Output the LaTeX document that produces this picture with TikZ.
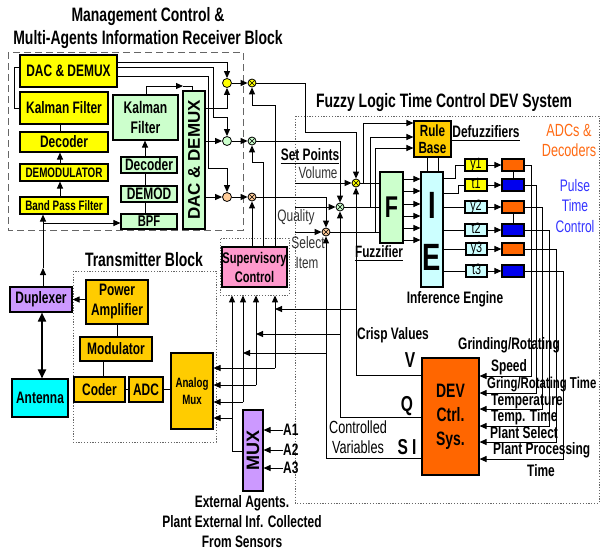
\documentclass[tikz,border=0pt]{standalone}
\usepackage{fontspec}
\setmainfont{Liberation Sans}[FakeStretch=0.72]
\newfontfamily\rotfont{Liberation Sans}
\usetikzlibrary{arrows.meta}
\definecolor{yel}{HTML}{FFFF00}
\definecolor{lgreen}{HTML}{CCFFCC}
\definecolor{gold}{HTML}{FFCC00}
\definecolor{purp}{HTML}{CC99FF}
\definecolor{cyanA}{HTML}{00FFFF}
\definecolor{pinkA}{HTML}{FF99CC}
\definecolor{devor}{HTML}{FF6600}
\definecolor{lcyan}{HTML}{CCFFFF}
\definecolor{peach}{HTML}{FFCC99}
\definecolor{blueA}{HTML}{0000EE}
\definecolor{orangeT}{HTML}{FF6A13}
\definecolor{blueT}{HTML}{3333FF}
\newcommand\myfs[2]{\fontsize{#1}{#2}\selectfont}
\newcommand\myB{\myfs{16.6}{20}\bfseries}
\newcommand\myS{\myfs{13.7}{16.5}\bfseries}
\newcommand\myT{\myfs{19.4}{23}\bfseries}
\newcommand\bxn[7]{\node[bx,#6,minimum width={#4-#2},minimum height={#5-#3}] (#1) at ({(#2+#4)/2},{(#3+#5)/2}) {#7};}
\begin{document}
\begin{tikzpicture}[x=1pt,y=-1pt,
  bx/.style={draw=black,line width=1.1pt,inner sep=0pt,align=center},
  ln/.style={line width=1pt},
  arr/.style={line width=1pt,-{Triangle[length=7pt,width=6pt]}},
  cir/.style={circle,draw=black,line width=0.8pt,minimum size=9pt,inner sep=0pt},
  xo/.style={circle,draw=black,line width=0.8pt,minimum size=8pt,inner sep=0pt,
     path picture={\draw[line width=0.5pt] (path picture bounding box.north west) -- (path picture bounding box.south east) (path picture bounding box.north east) -- (path picture bounding box.south west);}},
  lbl/.style={inner sep=0pt,align=center},
  frdash/.style={draw=black!60,line width=0.8pt,dash pattern=on 7pt off 4pt},
  frdot/.style={draw=black!60,line width=0.8pt,dash pattern=on 1.2pt off 1.6pt},
  smallbox/.style={font=\myfs{15}{15},text height=9pt,text depth=2pt},
]
\useasboundingbox (0,0) rectangle (601,550);

% frames
\draw[frdash] (8,52) rectangle (243,230);
\draw[frdot] (295,116) rectangle (599,503);
\draw[frdot] (73,271) rectangle (216,442);
\node[bx,frdot,minimum width=69,minimum height=57] (supbox) at (254.5,266.5) {};

% titles
\node[lbl,font=\myT] (tA) at (148,17) {Management Control \&};
\node[lbl,font=\myT] (tB) at (148,40) {Multi-Agents Information Receiver Block};
\node[lbl,font=\myT] (tC) at (444,103) {Fuzzy Logic Time Control DEV System};
\node[lbl,font=\myT] (tD) at (144,260) {Transmitter Block};

% receiver
\bxn{dacY}{20}{55}{117}{87}{fill=yel,font=\myB}{DAC \& DEMUX}
\bxn{kalY}{20}{92}{108}{124}{fill=yel,font=\myB}{Kalman Filter}
\bxn{decY}{20}{132}{108}{152}{fill=yel,font=\myB}{Decoder}
\bxn{demY}{20}{164}{108}{181}{fill=yel,font=\myS}{DEMODULATOR}
\bxn{bpfY}{20}{197}{108}{214}{fill=yel,font=\myS}{Band Pass Filter}
\bxn{kalG}{113}{95}{178}{140}{fill=lgreen,font=\myfs{16.8}{20}\bfseries}{Kalman\\Filter}
\bxn{decG}{121}{157}{177}{173}{fill=lgreen,font=\myB}{Decoder}
\bxn{demG}{121}{186}{177}{202}{fill=lgreen,font=\myB}{DEMOD}
\bxn{bpfG}{121}{214}{177}{229}{fill=lgreen,font=\myfs{15.6}{15}\bfseries}{BPF}
\bxn{dacG}{183}{91}{205}{229}{fill=lgreen}{}
\node[lbl,rotate=90,font=\rotfont\myfs{17}{17}\bfseries] (dacGt) at (dacG.center) {DAC \& DEMUX};

\node[cir,fill=yel] (c1) at (227,83) {};
\node[cir,fill=lgreen] (c2) at (227,141) {};
\node[cir,fill=peach] (c3) at (227,197) {};
\node[xo,fill=yel] (x1) at (252,83) {};
\node[xo,fill=lgreen] (x2) at (252,141) {};
\node[xo,fill=peach] (x3) at (252,197) {};
\node[xo,fill=yel] (z1) at (356,183) {};
\node[xo,fill=lgreen] (z2) at (340,207) {};
\node[xo,fill=peach] (z3) at (326,232) {};

% supervisory
\bxn{sup}{222}{247}{287}{287}{fill=pinkA,font=\myfs{15.4}{19}\bfseries}{Supervisory\\Control}

% transmitter
\bxn{pa}{86}{280}{148}{324}{fill=gold,font=\myfs{16.6}{20}\bfseries}{Power\\Amplifier}
\bxn{mod}{80}{337}{152}{361}{fill=gold,font=\myB}{Modulator}
\bxn{coder}{74}{377}{125}{402}{fill=gold,font=\myB}{Coder}
\bxn{adc}{129}{377}{163}{402}{fill=gold,font=\myB}{ADC}
\bxn{amux}{171}{353}{213}{429}{fill=gold,font=\myfs{13.5}{17}\bfseries}{Analog\\Mux}
\bxn{dup}{10}{287}{72}{312}{fill=purp,font=\myB}{Duplexer}
\bxn{ant}{12}{379}{68}{417}{fill=cyanA,font=\myB}{Antenna}
\bxn{mux}{243}{410}{263}{491}{fill=purp}{}
\node[lbl,rotate=90,font=\rotfont\myfs{18}{18}\bfseries] (muxt) at (mux.center) {MUX};

% fuzzy system
\bxn{F}{380}{172}{403}{243}{fill=lgreen}{}
\node[lbl,font=\myfs{30}{30}\bfseries] (Ft) at (391.5,207) {F};
\bxn{IE}{421}{172}{443}{287}{fill=lcyan}{}
\node[lbl,font=\myfs{38}{38}\bfseries] (It) at (432,205) {I};
\node[lbl,font=\myfs{38}{38}\bfseries] (Et) at (432,257) {E};
\bxn{RB}{414}{121}{451}{157}{fill=gold,font=\myfs{16.2}{17}\bfseries}{Rule\\Base}
\bxn{DEV}{422}{358}{479}{475}{fill=devor,font=\myfs{19.4}{24}\bfseries}{DEV\\Ctrl.\\Sys.}

\bxn{ya}{465}{159}{487}{171}{fill=yel,smallbox}{y1}
\bxn{ta}{465}{179}{487}{191}{fill=yel,smallbox}{t1}
\bxn{yb}{465}{201}{487}{213}{fill=lcyan,smallbox}{y2}
\bxn{tb}{465}{224}{487}{236}{fill=lcyan,smallbox}{t2}
\bxn{yc}{466}{243}{487}{255}{fill=lcyan,smallbox}{y3}
\bxn{tc}{466}{265}{487}{277}{fill=lcyan,smallbox}{t3}
\bxn{ra}{502}{159}{524}{171}{fill=devor}{}
\bxn{rb}{502}{179}{524}{191}{fill=blueA}{}
\bxn{rc}{502}{201}{524}{213}{fill=devor}{}
\bxn{rd}{502}{224}{524}{236}{fill=blueA}{}
\bxn{re}{502}{243}{524}{255}{fill=devor}{}
\bxn{rf}{502}{265}{524}{277}{fill=blueA}{}

% labels
\node[lbl,font=\myfs{16.4}{18}\bfseries] (fuzl) at (379,252) {Fuzzifier};
\draw[line width=0.9pt] ([yshift=-2pt]fuzl.south west) -- ([yshift=-2pt]fuzl.south east);
\node[lbl,font=\myB] (defl) at (486,132) {Defuzzifiers};
\draw[line width=0.9pt] ([yshift=-2pt]defl.south west) -- ([yshift=-2pt]defl.south east);
\node[lbl,font=\myB] (setp) at (310,155) {Set Points};
\draw[line width=0.9pt] ([yshift=-2pt]setp.south west) -- ([yshift=-2pt]setp.south east);
\node[lbl,font=\myfs{16.2}{18},text=black!80] (vol) at (318,173) {Volume};
\node[lbl,font=\myfs{16.6}{18},text=black!80] (qual) at (296,217) {Quality};
\node[lbl,font=\myfs{16.6}{18},text=black!80] (sel) at (308,243) {Select};
\node[lbl,font=\myfs{16.2}{18},text=black!80] (item) at (307,263) {Item};
\node[lbl,font=\myfs{17.6}{20},text=orangeT] (adcl) at (569,140) {ADCs \&\\Decoders};
\node[lbl,font=\myfs{16.7}{20.5},text=blueT] (pulse) at (575,206) {Pulse\\Time\\Control};
\node[lbl,font=\myB] (infl) at (455,299) {Inference Engine};
\node[lbl,font=\myB] (crisp) at (393,335) {Crisp Values};
\node[lbl,font=\myfs{21.6}{20}\bfseries] (vl) at (410,360) {V};
\node[lbl,font=\myfs{21.6}{20}\bfseries] (ql) at (407,406) {Q};
\node[lbl,font=\myfs{21.6}{20}\bfseries] (sil) at (407,447) {S I};
\node[lbl,font=\myfs{17.6}{19.5}] (ctrl) at (358,437) {Controlled\\Variables};
\node[lbl,font=\myB] (g1) at (509,345) {Grinding/Rotating};
\node[lbl,font=\myB] (g2) at (509,367) {Speed};
\node[lbl,font=\myfs{15.8}{20}\bfseries,anchor=west] (g3) at (487,384) {Gring/Rotating Time};
\node[lbl,font=\myB,anchor=west] (g4) at (491,401) {Temperature};
\node[lbl,font=\myB,anchor=west] (g5) at (491,417) {Temp. Time};
\node[lbl,font=\myB,anchor=west] (g6) at (490,433) {Plant Select};
\node[lbl,font=\myB,anchor=west] (g7) at (493,450) {Plant Processing};
\node[lbl,font=\myB,anchor=west] (g8) at (527,471) {Time};
\node[lbl,font=\myfs{16.6}{20}\bfseries] (ext) at (242,522) {External Agents.\\Plant External Inf. Collected\\From Sensors};
\node[lbl,font=\myB,anchor=west] (a1) at (283,430) {A1};
\node[lbl,font=\myB,anchor=west] (a2) at (283,450) {A2};
\node[lbl,font=\myB,anchor=west] (a3) at (283,468) {A3};

% ---- receiver connectors
\draw[ln] (dacY.west |- 0,67) -- (14,67) -- (14,108) -- (kalY.west |- 0,108);
\draw[ln] (kalY.south -| 60,0) -- (decY.north -| 60,0);
\draw[arr] (demY.north -| 60,0) -- (decY.south -| 60,0);
\draw[arr] (bpfY.north -| 60,0) -- (demY.south -| 60,0);
\coordinate (dupup) at (43,268);
\draw[arr] (dup.north -| 43,0) -- (dupup);
\draw[arr] (dupup) -- (bpfY.south -| 43,0);
\draw[arr] (43,223) -- (bpfG.west |- 0,223);
\draw[ln] (bpfG.north -| 145,0) -- (demG.south -| 145,0);
\draw[ln] (demG.north -| 145,0) -- (decG.south -| 145,0);
\draw[arr] (decG.north -| 145,0) -- (kalG.south -| 145,0);
\draw[arr] (kalG.north -| 146,0) -- (146,86) -- (183,86);
\draw[ln] (183,86) -- (192,86) -- (dacG.north -| 192,0);
\draw[arr] (dacY.east |- 0,62) -- (227,62) -- (c1.north);
\draw[arr] (dacY.east |- 0,67) -- (213,67) -- (213,117) -- (227,117) -- (c2.north);
\draw[arr] (dacY.east |- 0,76) -- (208,76) -- (208,168) -- (227,168) -- (c3.north);
\draw[arr] (dacG.east |- 0,108) -- (227,108) -- (c1.south);
\draw[arr] (dacG.east |- c2) -- (c2.west);
\draw[arr] (dacG.east |- c3) -- (c3.west);
\draw[arr] (c1.east) -- (x1.west);
\draw[arr] (c2.east) -- (x2.west);
\draw[arr] (c3.east) -- (x3.west);

% supervisory to mixers
\draw[arr] (sup.north -| x3) -- (x3.south);
\draw[arr] (sup.north -| 263,0) -- (263,162) -- (252,162) -- (x2.south);
\draw[arr] (sup.north -| 275,0) -- (275,105) -- (252,105) -- (x1.south);

% mixers to fuzzy mixers
\draw[arr] (x1.east) -- (305,83) -- (305,132) -- (z1 |- 0,132) -- (z1.north);
\draw[arr] (x2.east) -- (x2.east -| z2) -- (z2.north);
\draw[arr] (x3.east) -- (x3.east -| z3) -- (z3.north);
\draw[arr] (z1.west -| 295,0) -- (z1.west);
\draw[arr] (z2.west -| 295,0) -- (z2.west);
\draw[arr] (z3.west -| 295,0) -- (z3.west);
\draw[ln] (z1.east) -- (z1.east -| F.west);
\draw[ln] (z2.east) -- (z2.east -| F.west);
\draw[ln] (z3.east) -- (z3.east -| F.west);
\draw[arr] (z1 -| 363,0) -- (363,123) -- (RB.west |- 0,123);
\draw[arr] (z2 -| 370,0) -- (370,137) -- (RB.west |- 0,137);
\draw[arr] (z3 -| 375,0) -- (375,148) -- (RB.west |- 0,148);

% DEV outputs back
\draw[arr] (DEV.west |- 0,375) -- (z1 |- 0,375) -- (z1.south);
\draw[arr] (DEV.west |- 0,417) -- (z2 |- 0,417) -- (z2.south);
\draw[arr] (DEV.west |- 0,458) -- (z3 |- 0,458) -- (z3.south);
\draw[arr] (z1 |- 0,309) -- (275,309);
\draw[arr] (z2 |- 0,334) -- (256,334);
\draw[arr] (z3 |- 0,353) -- (243,353);

% supervisory inputs and analog mux
\draw[arr] (275,368) -- (supbox.south -| 275,0);
\draw[arr] (275,368) -- (amux.east |- 0,368);
\draw[arr] (256,385) -- (supbox.south -| 256,0);
\draw[arr] (256,385) -- (amux.east |- 0,385);
\draw[arr] (243,402) -- (supbox.south -| 243,0);
\draw[arr] (243,402) -- (amux.east |- 0,402);
\draw[arr] (mux.west |- 0,451) -- (232,451) -- (supbox.south -| 232,0);
\draw[arr] (232,418) -- (amux.east |- 0,418);
\draw[arr] (a1.west) -- (a1.west -| mux.east);
\draw[arr] (a2.west) -- (a2.west -| mux.east);
\draw[arr] (a3.west) -- (a3.west -| mux.east);

% transmitter
\draw[ln] (pa.south -| 117,0) -- (mod.north -| 117,0);
\draw[ln] (mod.south -| 103,0) -- (coder.north -| 103,0);
\draw[ln] (coder.east) -- (adc.west);
\draw[ln] (adc.east) -- (adc.east -| amux.west);
\draw[arr] (pa.west |- dup.east) -- (dup.east);
\draw[{Triangle[length=9pt,width=8pt]}-{Triangle[length=9pt,width=8pt]},line width=1.8pt] (dup.south -| 42,0) -- (ant.north -| 42,0);

% fuzzy internals
\foreach \yy in {179,191,204,216,228,240} \draw[arr] (F.east |- 0,\yy) -- (IE.west |- 0,\yy);
\draw[ln] (RB.south -| 427,0) -- (IE.north -| 427,0);
\draw[ln] (RB.south -| 438,0) -- (IE.north -| 438,0);
\draw[ln] (IE.east |- 0,178) -- (455,178) -- (455,165) -- (ya.west);
\draw[ln] (IE.east |- 0,193) -- (458,193) -- (458,185) -- (ta.west);
\draw[ln] (IE.east |- yb.west) -- (yb.west);
\draw[ln] (IE.east |- tb.west) -- (tb.west);
\draw[ln] (IE.east |- yc.west) -- (yc.west);
\draw[ln] (IE.east |- tc.west) -- (tc.west);
\draw[arr] (ya.east) -- (ra.west);
\draw[arr] (ta.east) -- (rb.west);
\draw[arr] (yb.east) -- (rc.west);
\draw[arr] (tb.east) -- (rd.west);
\draw[arr] (yc.east) -- (re.west);
\draw[arr] (tc.east) -- (rf.west);
\draw[ln] (ra.south) -- (rb.north);
\draw[ln] (rc.south) -- (rd.north);
\draw[arr] (ra.east) -- (ra.east -| 531,0) -- (531,376) -- (DEV.east |- 0,376);
\draw[arr] (rb.east) -- (rb.east -| 536,0) -- (536,393) -- (DEV.east |- 0,393);
\draw[arr] (rc.east) -- (rc.east -| 542,0) -- (542,409) -- (DEV.east |- 0,409);
\draw[arr] (rd.east) -- (rd.east -| 549,0) -- (549,426) -- (DEV.east |- 0,426);
\draw[arr] (re.east) -- (re.east -| 556,0) -- (556,442) -- (DEV.east |- 0,442);
\draw[arr] (rf.east) -- (rf.east -| 563,0) -- (563,459) -- (DEV.east |- 0,459);
\end{tikzpicture}
\end{document}
